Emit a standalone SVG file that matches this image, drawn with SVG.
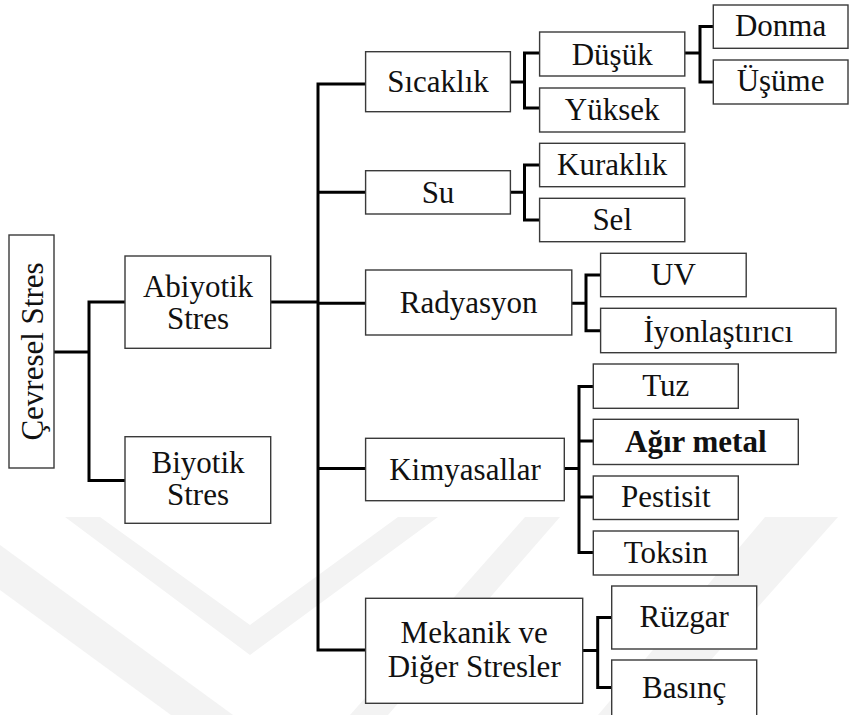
<svg xmlns="http://www.w3.org/2000/svg" width="850" height="715" viewBox="0 0 850 715" font-family="Liberation Serif, Times New Roman, serif">
<style>
.box{fill:#fff;stroke:#3a3a3a;stroke-width:1.4}
.t{font-size:31px;fill:#111;text-anchor:middle}
.b{font-weight:bold}
.c{fill:none;stroke:#000;stroke-width:3;stroke-linejoin:miter}
.wm{fill:#f3f3f3}
</style>
<rect width="850" height="715" fill="#fff"/>
<g id="watermark">
<polygon class="wm" points="65,517 100,517 250,625 398,517 438,517 250,655"/>
<polygon class="wm" points="0,545 233,715 171,715 0,590"/>
<polygon class="wm" points="525,517 560,517 388,715 350,715"/>
<polygon class="wm" points="765,517 838,517 662,715 598,715"/>
</g>
<g id="connectors">
<path class="c" d="M54,352 H89 M125,302 H89 V480.5 H125"/>
<path class="c" d="M270.7,302 H318 M365.6,84 H318 V650 H365.6 M318,192.3 H365.6 M318,303.3 H365.6 M318,468.5 H365.6"/>
<path class="c" d="M510.4,82 H524.5 M539.6,53 H524.5 V108 H539.6"/>
<path class="c" d="M684.8,53 H700 M713.3,26.5 H700 V82 H713.3"/>
<path class="c" d="M510.4,192.3 H524.5 M539.6,165 H524.5 V220 H539.6"/>
<path class="c" d="M571.8,303.3 H586 M600.6,275 H586 V330.7 H600.6"/>
<path class="c" d="M564.3,468.5 H579 M593.3,386.5 H579 V552.5 H593.3 M579,441 H593.3 M579,497 H593.3"/>
<path class="c" d="M582.7,650.5 H597.7 M611.7,617.5 H597.7 V687.5 H611.7"/>
</g>
<g id="cevresel"><rect class="box" x="9" y="235" width="45" height="233"/><text class="t" font-family="Liberation Serif, serif" transform="translate(43,351.5) rotate(-90)">Çevresel Stres</text></g>
<g id="abiyotik"><rect class="box" x="125" y="256" width="145.7" height="92.3"/><text class="t" font-family="Liberation Serif, serif" x="198" y="296.5">Abiyotik</text><text class="t" font-family="Liberation Serif, serif" x="198" y="328.5">Stres</text></g>
<g id="biyotik"><rect class="box" x="125" y="436.7" width="145.7" height="86.6"/><text class="t" font-family="Liberation Serif, serif" x="198" y="472.5">Biyotik</text><text class="t" font-family="Liberation Serif, serif" x="198" y="504.5">Stres</text></g>
<g id="sicaklik"><rect class="box" x="365.6" y="51.7" width="144.8" height="60"/><text class="t" font-family="Liberation Serif, serif" x="438" y="92">Sıcaklık</text></g>
<g id="dusuk"><rect class="box" x="539.6" y="32" width="145.2" height="44"/><text class="t" font-family="Liberation Serif, serif" x="612.2" y="65">Düşük</text></g>
<g id="yuksek"><rect class="box" x="539.6" y="88" width="145.2" height="44"/><text class="t" font-family="Liberation Serif, serif" x="612.2" y="120">Yüksek</text></g>
<g id="donma"><rect class="box" x="713.3" y="5" width="134.7" height="43.3"/><text class="t" font-family="Liberation Serif, serif" x="780.6" y="36">Donma</text></g>
<g id="usume"><rect class="box" x="713.3" y="60" width="134.7" height="44"/><text class="t" font-family="Liberation Serif, serif" x="780.6" y="90.7">Üşüme</text></g>
<g id="su"><rect class="box" x="365.6" y="170.7" width="144.8" height="43.3"/><text class="t" font-family="Liberation Serif, serif" x="438" y="203.3">Su</text></g>
<g id="kuraklik"><rect class="box" x="539.6" y="143.3" width="145.2" height="43.4"/><text class="t" font-family="Liberation Serif, serif" x="612.2" y="175">Kuraklık</text></g>
<g id="sel"><rect class="box" x="539.6" y="198.3" width="145.2" height="43.4"/><text class="t" font-family="Liberation Serif, serif" x="612.2" y="230">Sel</text></g>
<g id="radyasyon"><rect class="box" x="365.6" y="270" width="206.2" height="65"/><text class="t" font-family="Liberation Serif, serif" x="468.7" y="312.7">Radyasyon</text></g>
<g id="uv"><rect class="box" x="600.6" y="253.3" width="145.6" height="43.4"/><text class="t" font-family="Liberation Serif, serif" x="673.4" y="285">UV</text></g>
<g id="iyonlastirici"><rect class="box" x="600.6" y="308.3" width="235.4" height="44.4"/><text class="t" font-family="Liberation Serif, serif" x="718.3" y="341.7">İyonlaştırıcı</text></g>
<g id="kimyasallar"><rect class="box" x="365.6" y="438.3" width="198.7" height="62.4"/><text class="t" font-family="Liberation Serif, serif" x="465" y="480">Kimyasallar</text></g>
<g id="tuz"><rect class="box" x="593.3" y="364" width="145" height="44.3"/><text class="t" font-family="Liberation Serif, serif" x="665.8" y="396">Tuz</text></g>
<g id="agirmetal"><rect class="box" x="593.3" y="419.3" width="205" height="45.2"/><text class="t b" font-family="Liberation Serif, serif" x="695.8" y="451.7">Ağır metal</text></g>
<g id="pestisit"><rect class="box" x="593.3" y="476" width="145" height="43.5"/><text class="t" font-family="Liberation Serif, serif" x="665.8" y="507.3">Pestisit</text></g>
<g id="toksin"><rect class="box" x="593.3" y="531" width="145" height="44"/><text class="t" font-family="Liberation Serif, serif" x="665.8" y="562.5">Toksin</text></g>
<g id="mekanik"><rect class="box" x="365.6" y="598.3" width="217.1" height="105"/><text class="t" font-family="Liberation Serif, serif" x="474.2" y="643">Mekanik ve</text><text class="t" font-family="Liberation Serif, serif" x="474.2" y="677">Diğer Stresler</text></g>
<g id="ruzgar"><rect class="box" x="611.7" y="586" width="145" height="63"/><text class="t" font-family="Liberation Serif, serif" x="684.2" y="627.3">Rüzgar</text></g>
<g id="basinc"><rect class="box" x="611.7" y="660" width="145" height="70"/><text class="t" font-family="Liberation Serif, serif" x="684.2" y="698.3">Basınç</text></g>
</svg>
